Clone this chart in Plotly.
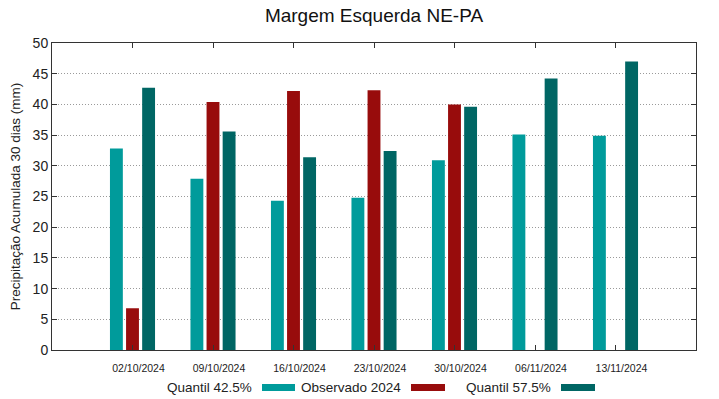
import plotly.graph_objects as go

dates = ["02/10/2024", "09/10/2024", "16/10/2024", "23/10/2024", "30/10/2024", "06/11/2024", "13/11/2024"]
q425 = [32.8, 27.9, 24.3, 24.8, 30.9, 35.1, 34.9]
obs2024 = [6.8, 40.4, 42.2, 42.3, 40.0, None, None]
q575 = [42.7, 35.6, 31.4, 32.4, 39.6, 44.2, 47.0]
series_names = ["Quantil 42.5%", "Observado 2024", "Quantil 57.5%"]
colors = ["#009b9b", "#980c0c", "#006664"]

x = list(range(len(dates)))
fig = go.Figure()
for name, vals, c in zip(series_names, [q425, obs2024, q575], colors):
    fig.add_trace(go.Bar(x=x, y=vals, name=name, marker=dict(color=c, line=dict(width=0)),
                         showlegend=False))

font = "Liberation Sans, Arial, sans-serif"
fig.update_layout(
    width=719, height=399,
    margin=dict(l=52, r=23, t=43, b=49, autoexpand=False),
    paper_bgcolor="white", plot_bgcolor="white",
    barmode="group", bargap=0.4, bargroupgap=0.2,
    font=dict(family=font, color="#222"),
    title=dict(text="Margem Esquerda NE-PA", x=0.5, xref="paper", xanchor="center",
               y=0.962, yanchor="middle",
               font=dict(size=19, family=font, color="#111")),
)
fig.update_xaxes(range=[-1, 7], tickvals=x, ticktext=dates, ticks="inside", ticklen=5,
                 tickcolor="#333", showline=True, linecolor="#333", linewidth=1, mirror="ticks",
                 showgrid=False, zeroline=False, automargin=False,
                 ticklabelshift=6, ticklabelstandoff=8,
                 tickfont=dict(size=10.5, color="#222"))
fig.update_yaxes(range=[0, 50], dtick=5, ticks="inside", ticklen=5, tickcolor="#333",
                 showline=True, linecolor="#333", linewidth=1, mirror="ticks",
                 showgrid=True, gridcolor="#9a9a9a", griddash="1px,2px", gridwidth=1,
                 zeroline=False, automargin=False, tickfont=dict(size=14, color="#222"),
                 title=dict(text="Precipitação Acumulada 30 dias (mm)", font=dict(size=13.5, color="#222"),
                            standoff=8))

# custom legend (text followed by swatch, gnuplot style)
pw, ph = 644.0, 307.0
def px(v):
    return (v - 52) / pw
def py(v):
    return (350 - v) / ph
legend_pos = [(254, 262, 295), (403, 411, 445), (553, 561, 595)]
for (tx, s0, s1), name, c in zip(legend_pos, series_names, colors):
    fig.add_annotation(x=px(tx), y=py(387), xref="paper", yref="paper", text=name,
                       showarrow=False, xanchor="right", yanchor="middle",
                       font=dict(size=13.5, family=font, color="#222"))
    fig.add_shape(type="rect", xref="paper", yref="paper", x0=px(s0), x1=px(s1),
                  y0=py(391), y1=py(384), fillcolor=c, line=dict(width=0))

fig.write_html("out.html", config={"displayModeBar": False},
               post_script="document.body.style.margin='0';document.body.style.overflow='hidden';")
